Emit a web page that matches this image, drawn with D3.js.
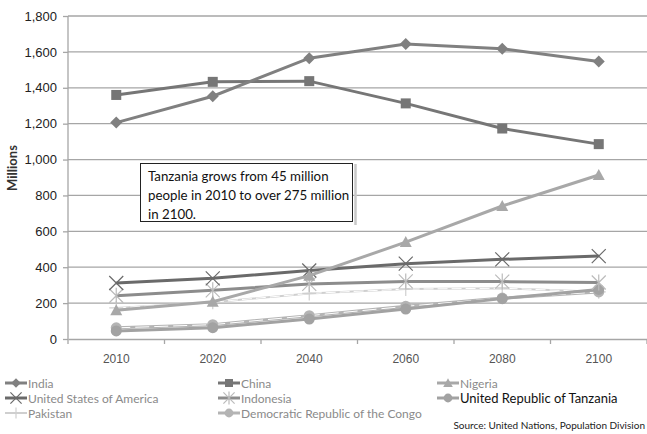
<!DOCTYPE html>
<html><head><meta charset="utf-8">
<script src="https://cdn.jsdelivr.net/npm/d3@7"></script>
<style>body{margin:0;background:#fff}svg{display:block;font-family:Lato,"Open Sans",sans-serif}</style>
</head><body><svg id="c" width="647" height="434"></svg>
<script>
const years = ["2010","2020","2040","2060","2080","2100"];
const yTicks = [0,200,400,600,800,1000,1200,1400,1600,1800];
const india = [1206,1353,1565,1644,1618,1547];
const china = [1360,1433,1437,1313,1173,1086];
const nigeria = [160,208,353,540,741,914];
const usa = [312,338,382,420,444,462];
const indonesia = [241,271,307,321,320,315];
const tanzania = [45,63,111,167,225,276];
const pakistan = [173,205,254,278,283,263];
const drc = [62,80,130,182,228,262];

const series = [
  {name:"India", values:india, color:"#808080", marker:"diamond", w:3},
  {name:"China", values:china, color:"#767676", marker:"square", w:3},
  {name:"Nigeria", values:nigeria, color:"#a8a8a8", marker:"triangle", w:3},
  {name:"United States of America", values:usa, color:"#6a6a6a", marker:"x", w:3},
  {name:"Indonesia", values:indonesia, color:"#8c8c8c", marker:"star", w:3},
  {name:"United Republic of Tanzania", values:tanzania, color:"#a2a2a2", marker:"circle", w:3},
  {name:"Pakistan", values:pakistan, color:"#cfcfcf", marker:"plus", w:2, dash:"10,4"},
  {name:"Democratic Republic of the Congo", values:drc, color:"#b4b4b4", marker:"circle", w:3, dash:"14,5"}
];

const svg = d3.select("#c");
const x = d3.scaleBand().domain(years).range([68,647]).padding(0);
const y = d3.scaleLinear().domain([0,1800]).range([339,16]);

svg.append("g").selectAll("line").data(yTicks.slice(1)).join("line")
  .attr("x1",68).attr("x2",647).attr("y1",d=>y(d)).attr("y2",d=>y(d))
  .attr("stroke","#a6a6a6").attr("stroke-width",1.3);

const ya = svg.append("g").attr("transform","translate(68,0)")
  .call(d3.axisLeft(y).tickValues(yTicks).tickSize(5).tickPadding(6).tickFormat(d3.format(",")));
ya.select(".domain").attr("stroke","#a6a6a6").attr("stroke-width",1.3).attr("d","M0,16V339");
ya.selectAll(".tick line").attr("stroke","#a6a6a6").attr("stroke-width",1.3);
ya.selectAll("text").attr("font-size",13).attr("fill","#222");

const xa = svg.append("g").attr("transform","translate(0,339)")
  .call(d3.axisBottom(x).tickSize(0).tickPadding(15));
xa.select(".domain").attr("stroke","#a6a6a6").attr("stroke-width",1.3);
xa.selectAll("text").attr("font-size",12).attr("fill","#555");
xa.append("g").selectAll("line").data(years.map(d=>x(d)).concat([647])).join("line")
  .attr("x1",d=>d).attr("x2",d=>d).attr("y1",0).attr("y2",5).attr("stroke","#a6a6a6").attr("stroke-width",1.3);

svg.append("text").attr("transform","translate(17,168) rotate(-90)").attr("text-anchor","middle")
  .attr("font-size",13).attr("font-weight","bold").attr("fill","#333").text("Millions");

const cx = d=>x(d)+x.bandwidth()/2;
const line = d3.line().x((d,i)=>cx(years[i])).y(d=>y(d));

function marker(g, type, color, px, py, s){
  s = s||1;
  if(type==="diamond") g.append("path").attr("d",`M${px},${py-6*s}L${px+6*s},${py}L${px},${py+6*s}L${px-6*s},${py}Z`).attr("fill",color);
  else if(type==="square") g.append("rect").attr("x",px-5*s).attr("y",py-5*s).attr("width",10*s).attr("height",10*s).attr("fill",color);
  else if(type==="triangle") g.append("path").attr("d",`M${px},${py-6*s}L${px+6*s},${py+5*s}L${px-6*s},${py+5*s}Z`).attr("fill",color);
  else if(type==="circle") g.append("circle").attr("cx",px).attr("cy",py).attr("r",5.5*s).attr("fill",color);
  else if(type==="x") g.append("path").attr("d",`M${px-7*s},${py-7*s}L${px+7*s},${py+7*s}M${px+7*s},${py-7*s}L${px-7*s},${py+7*s}`).attr("stroke",color).attr("stroke-width",1.2);
  else if(type==="star") g.append("path").attr("d",`M${px-7*s},${py-7*s}L${px+7*s},${py+7*s}M${px+7*s},${py-7*s}L${px-7*s},${py+7*s}M${px},${py-8*s}L${px},${py+8*s}`).attr("stroke","#bbbbbb").attr("stroke-width",1.2);
  else if(type==="plus") g.append("path").attr("d",`M${px-7*s},${py}L${px+7*s},${py}M${px},${py-7*s}L${px},${py+7*s}`).attr("stroke",color).attr("stroke-width",1.2);
}

const order = [6,7,5,4,3,2,1,0];
order.forEach(k=>{
  const s = series[k];
  const g = svg.append("g");
  g.append("path").attr("d",line(s.values)).attr("fill","none").attr("stroke",s.color).attr("stroke-width",s.w);
  if(s.dash){
    g.append("path").attr("d",line(s.values)).attr("fill","none").attr("stroke","#fff").attr("stroke-width",1).attr("stroke-dasharray",s.dash);
  }
  s.values.forEach((v,i)=>marker(g,s.marker,s.color,cx(years[i]),y(v)));
});

svg.append("line").attr("x1",355.5).attr("x2",355.5).attr("y1",164).attr("y2",225).attr("stroke","#c8c8c8").attr("stroke-width",2.5);
svg.append("rect").attr("x",140.5).attr("y",163.5).attr("width",212).attr("height",58).attr("fill","#fff").attr("stroke","#222").attr("stroke-width",1);
const ann = ["Tanzania grows from 45 million","people in 2010 to over 275 million","in 2100."];
svg.append("g").selectAll("text").data(ann).join("text")
  .attr("x",148).attr("y",(d,i)=>181+i*19).attr("font-size",13.3).attr("fill","#111").text(d=>d);

const legPos = [[5,383],[218,383],[437,383],[5,398],[218,398],[437,398],[5,413],[218,413]];
series.forEach((s,i)=>{
  const [lx,ly] = legPos[i];
  const g = svg.append("g");
  g.append("line").attr("x1",lx).attr("x2",lx+22).attr("y1",ly).attr("y2",ly).attr("stroke",s.color).attr("stroke-width",s.w);
  marker(g,s.marker,s.color,lx+11,ly,0.8);
  const dark = s.name==="United Republic of Tanzania";
  g.append("text").attr("x",lx+23).attr("y",ly+4.5).attr("font-size",dark?13:12)
    .attr("fill",dark?"#111":"#8a8a8a").text(s.name);
});

svg.append("text").attr("x",645).attr("y",429).attr("text-anchor","end").attr("font-size",10).attr("fill","#222").text("Source: United Nations, Population Division");
</script></body></html>
